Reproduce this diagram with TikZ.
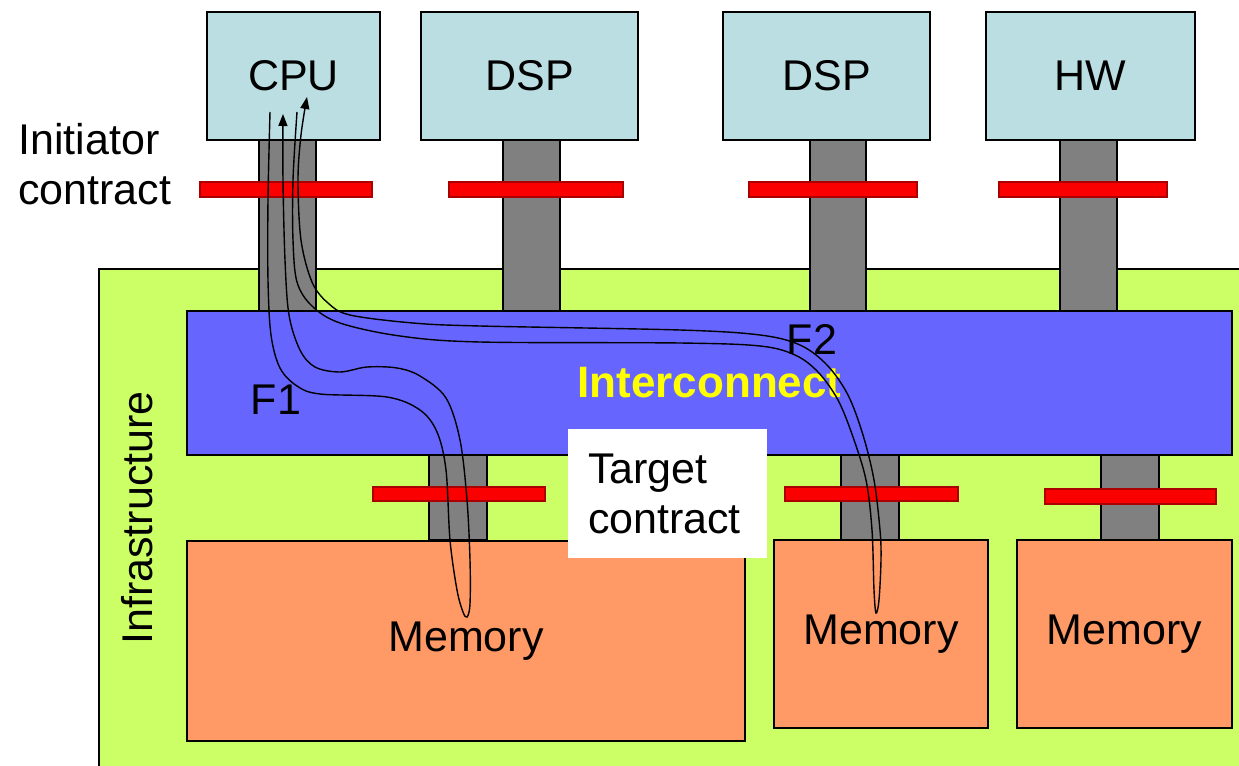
\documentclass[tikz,border=0pt]{standalone}
\usepackage{fontspec}
\setmainfont{Liberation Sans}
\usetikzlibrary{arrows.meta,fit}

\definecolor{procblue}{RGB}{186,222,226}
\definecolor{stemgray}{RGB}{128,128,128}
\definecolor{barred}{RGB}{250,0,0}
\definecolor{infragreen}{RGB}{204,255,102}
\definecolor{nocblue}{RGB}{102,102,255}
\definecolor{memorange}{RGB}{255,153,102}
\definecolor{textyellow}{RGB}{255,255,0}

\begin{document}
\begin{tikzpicture}[
  x=0.5pt, y=-0.5pt,
  every node/.style={font=\fontsize{21.5}{25}\selectfont, inner sep=0pt},
  box/.style={draw, line width=0.75pt},
  proc/.style={box, fill=procblue},
  stem/.style={box, fill=stemgray},
  contract/.style={draw={rgb,255:red,170;green,0;blue,0}, line width=0.6pt, fill=barred},
  infra/.style={box, fill=infragreen},
  noc/.style={box, fill=nocblue},
  mem/.style={box, fill=memorange},
  note/.style={fill=white},
  txt/.style={align=left},
  noctxt/.style={text=textyellow, font=\fontsize{22}{25}\selectfont\bfseries},
  flow/.style={line width=0.7pt, black},
  tip/.style={-{Triangle[length=6pt,width=4.5pt]}}
]
  \clip (0,0) rectangle (1239,766);

  % Infrastructure area
  \node[infra, fit={(99,269) (1260,790)}] (infra) {};
  \node[txt, rotate=90] (infralbl) at (137,518) {Infrastructure};

  % Links to the initiators
  \node[stem, fit={(259,140) (316,311)}] (scpu) {};
  \node[stem, fit={(503,140) (560,311)}] (sdspa) {};
  \node[stem, fit={(810,140) (866,311)}] (sdspb) {};
  \node[stem, fit={(1060,140) (1117,311)}] (shw) {};

  % Links to the targets
  \node[stem, fit={(429,455) (487,540)}] (smema) {};
  \node[stem, fit={(841,455) (899,540)}] (smemb) {};
  \node[stem, fit={(1101,455) (1159,540)}] (smemc) {};

  % Interconnect
  \node[noc, fit={(187,311) (1232,455)}] (noc) {};
  \node[noctxt] (noclbl) at (noc) {Interconnect};

  % Targets
  \node[mem, fit={(187,541) (745,741)}] (mema) {};
  \node[mem, fit={(774,540) (988,728)}] (memb) {};
  \node[mem, fit={(1017,540) (1232,728)}] (memc) {};
  \node (memalbl) at (mema) {Memory};
  \node (memblbl) at (memb) {Memory};
  \node (memclbl) at (memc) {Memory};

  % Initiators
  \node[proc, fit={(207,12) (380,140)}] (cpu) {};
  \node[proc, fit={(421,12) (638,140)}] (dspa) {};
  \node[proc, fit={(723,12) (930,140)}] (dspb) {};
  \node[proc, fit={(986,12) (1195,140)}] (hw) {};
  \node (cpulbl) at (cpu) {CPU};
  \node (dspalbl) at (dspa) {DSP};
  \node (dspblbl) at (dspb) {DSP};
  \node (hwlbl) at (hw) {HW};

  % Contracts
  \node[contract, fit={(200,182) (372,197)}] (ccpu) {};
  \node[contract, fit={(449,182) (623,197)}] (cdspa) {};
  \node[contract, fit={(749,182) (917,197)}] (cdspb) {};
  \node[contract, fit={(999,182) (1167,197)}] (chw) {};
  \node[contract, fit={(373,487) (545,501)}] (cmema) {};
  \node[contract, fit={(785,487) (958,501)}] (cmemb) {};
  \node[contract, fit={(1045,489) (1216,504)}] (cmemc) {};

  \node[note, fit={(568,429) (767,558)}] (tgt) {};
  \node[txt, anchor=west] (tgtlbl) at ([xshift=10pt]tgt.west) {Target\\contract};
  \node[txt, anchor=west] (initlbl) at (18,164) {Initiator\\contract};

  % Flows
  \coordinate (f1a) at (270,112);
  \coordinate (f1b) at (283,114);
  \coordinate (f2a) at (297,112);
  \coordinate (f2b) at (307,97);

  \draw[flow, tip] plot[smooth, tension=0.55] coordinates {
    (f1a) (268,200) (268,280) (271,335) (280,368) (297,386) (320,394)
    (387,397) (420,410) (437,432) (446,470) (450,540) (457,590)
    (463,612) (467,617) (470,604) (470,560) (467,500) (460,440)
    (446,398) (420,376) (397,368) (367,367) (340,372) (315,367)
    (300,350) (289,315) (285,260) (283,180) (f1b)};
  \draw[flow, tip] plot[smooth, tension=0.55] coordinates {
    (f2a) (293,180) (293,240) (297,282) (312,306) (340,323) (400,336)
    (480,342) (680,343) (760,346) (795,355) (818,372) (838,400)
    (853,437) (866,480) (872,530) (874,590) (876,613) (879,600)
    (881,560) (880,530) (874,480) (863,435) (848,395) (827,365)
    (800,345) (760,335) (680,330) (480,326) (413,323) (350,315)
    (328,303) (312,282) (301,240) (298,180) (301,135) (f2b)};

  \node (f1lbl) at (276,400) {F1};
  \node (f2lbl) at (812,339) {F2};
\end{tikzpicture}
\end{document}
